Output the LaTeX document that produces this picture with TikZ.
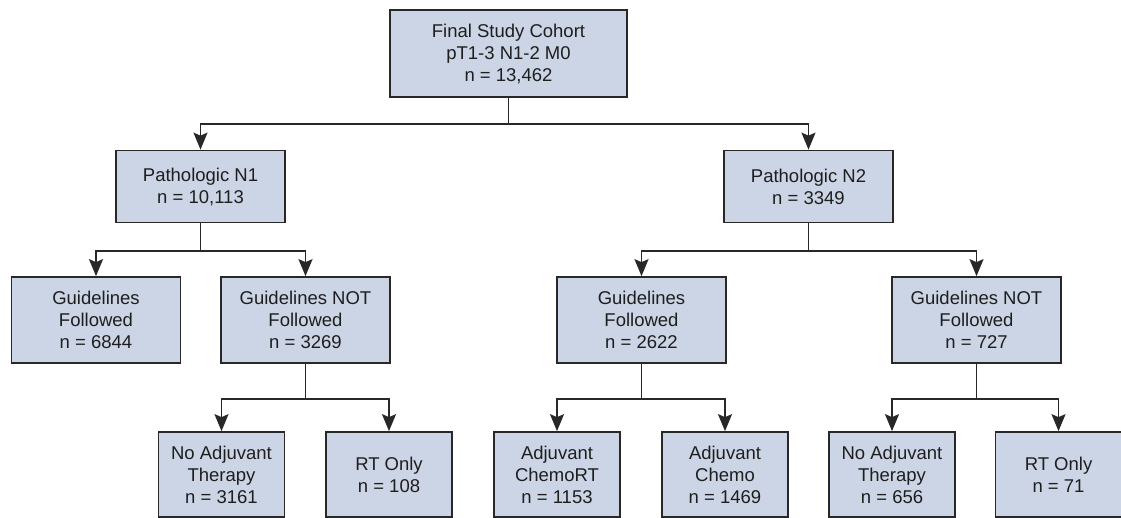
\documentclass[tikz,border=0pt]{standalone}
\usepackage{fontspec}
\setmainfont{Liberation Sans}
\usetikzlibrary{arrows.meta}
\definecolor{boxfill}{RGB}{204,213,230}
\definecolor{edge}{RGB}{40,40,40}
\definecolor{txt}{RGB}{30,30,30}
\tikzset{
  box/.style={draw=edge, fill=boxfill, line width=1.7pt, align=center, inner sep=2pt,
    font=\fontsize{18.5}{22}\selectfont, text=txt},
  boxa/.style={box, minimum width=237pt, minimum height=87pt},
  boxb/.style={box, minimum width=169pt, minimum height=72pt},
  boxc/.style={box, minimum width=169pt, minimum height=86pt},
  boxd/.style={box, minimum width=126pt, minimum height=85pt},
  conn/.style={draw=edge, line width=1.7pt, -{Stealth[length=17pt,width=14pt,inset=3pt]}},
}
\begin{document}
\begin{tikzpicture}[x=1pt,y=-1pt]
\useasboundingbox (0,0) rectangle (1121,518);
\node[boxa] (top) at (508.5,53.5) {Final Study Cohort\\pT1-3 N1-2 M0\\n = 13,462};
\node[boxb] (n1) at (200.5,186.5) {Pathologic N1\\n = 10,113};
\node[boxb] (n2) at (808.5,186.5) {Pathologic N2\\n = 3349};
\node[boxc] (gf1) at (96,320) {Guidelines\\Followed\\n = 6844};
\node[boxc] (gnf1) at (305.5,320) {Guidelines NOT\\Followed\\n = 3269};
\node[boxc] (gf2) at (641.5,320) {Guidelines\\Followed\\n = 2622};
\node[boxc] (gnf2) at (976.5,320) {Guidelines NOT\\Followed\\n = 727};
\node[boxd] (na1) at (221.5,474.5) {No Adjuvant\\Therapy\\n = 3161};
\node[boxd] (rt1) at (389,474.5) {RT Only\\n = 108};
\node[boxd] (crt) at (557,474.5) {Adjuvant\\ChemoRT\\n = 1153};
\node[boxd] (ch) at (725,474.5) {Adjuvant\\Chemo\\n = 1469};
\node[boxd] (na2) at (892,474.5) {No Adjuvant\\Therapy\\n = 656};
\node[boxd] (rt2) at (1058.5,474.5) {RT Only\\n = 71};
\draw[conn] (top.south) -- ([yshift=-26pt]top.south) -| (n1.north);
\draw[conn] (top.south) -- ([yshift=-26pt]top.south) -| (n2.north);
\draw[conn] (n1.south) -- ([yshift=-27.5pt]n1.south) -| (gf1.north);
\draw[conn] (n1.south) -- ([yshift=-27.5pt]n1.south) -| (gnf1.north);
\draw[conn] (n2.south) -- ([yshift=-27.5pt]n2.south) -| (gf2.north);
\draw[conn] (n2.south) -- ([yshift=-27.5pt]n2.south) -| (gnf2.north);
\draw[conn] (gnf1.south) -- ([yshift=-35pt]gnf1.south) -| (na1.north);
\draw[conn] (gnf1.south) -- ([yshift=-35pt]gnf1.south) -| (rt1.north);
\draw[conn] (gf2.south) -- ([yshift=-35pt]gf2.south) -| (crt.north);
\draw[conn] (gf2.south) -- ([yshift=-35pt]gf2.south) -| (ch.north);
\draw[conn] (gnf2.south) -- ([yshift=-35pt]gnf2.south) -| (na2.north);
\draw[conn] (gnf2.south) -- ([yshift=-35pt]gnf2.south) -| (rt2.north);
\end{tikzpicture}
\end{document}
